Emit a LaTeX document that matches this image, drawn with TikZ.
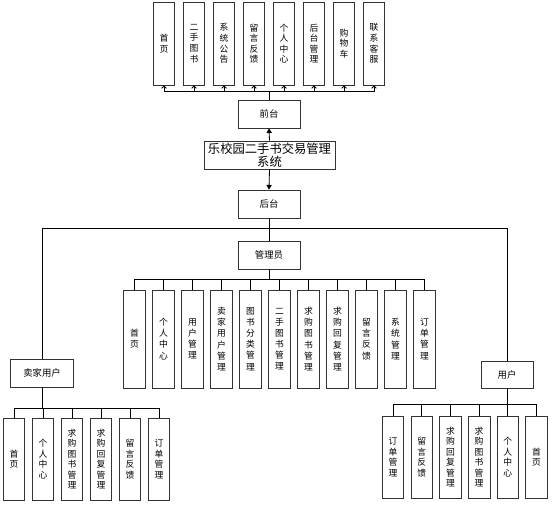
\documentclass[tikz,border=0pt]{standalone}
\usepackage{fontspec}
\setmainfont{Noto Sans CJK SC}
\usetikzlibrary{arrows.meta}

\begin{document}
\begin{tikzpicture}[x=0.03cm,y=-0.03cm,
    box/.style={draw=black!80,line width=0.6pt,fill=white,inner sep=0pt,align=center,
        font=\fontsize{8}{9}\selectfont},
    cell/.style={box,minimum width=0.65cm,font=\fontsize{7.5}{9}\selectfont},
    line/.style={line width=0.7pt,black},
    up/.style={line,-{Straight Barb[length=2pt,width=4pt]}},
    big/.style={line,-{Triangle[length=4pt,width=4.5pt]}}]
    \useasboundingbox (0,0) rectangle (554,508);

    % centre column
    \node[box,minimum width=1.86cm,minimum height=0.84cm] (qiantai) at (269,114) {前台};
    \node[box,minimum width=3.93cm,minimum height=0.84cm,text width=3.8cm,
        font=\fontsize{10.5}{11.5}\selectfont] (sys) at (269.5,155) {乐校园二手书交易管理\\系统};
    \node[box,minimum width=1.86cm,minimum height=0.84cm] (houtai) at (269,204) {后台};
    \node[box,minimum width=1.86cm,minimum height=0.84cm] (admin) at (269,255) {管理员};
    \node[box,minimum width=1.89cm,minimum height=0.84cm] (seller) at (42,373) {卖家用户};
    \node[box,minimum width=1.56cm,minimum height=0.81cm] (user) at (507,374.5) {用户};

    \draw[big] (sys.north) -- (qiantai.south);
    \draw[big] (sys.south) -- (houtai.north);

    % front end
    \coordinate (topbus) at (269,91);
    \draw[line] (qiantai.north) -- (topbus);
    \foreach \t [count=\i from 0] in {{首\\页},{二\\手\\图\\书},{系\\统\\公\\告},{留\\言\\反\\馈},
        {个\\人\\中\\心},{后\\台\\管\\理},{购\\物\\车},{联\\系\\客\\服}} {
        \node[cell,minimum height=2.49cm,font=\fontsize{7.5}{9}\selectfont] (top\i) at (164+30*\i,43.5) {\t};
        \draw[up] (topbus) -| (top\i.south);
    }

    % back end
    \coordinate (backbus) at (269,228);
    \draw[line] (houtai.south) -- (admin.north);
    \draw[line] (backbus) -| (seller.north);
    \draw[line] (backbus) -| (user.north);

    \coordinate (adminbus) at (269,279);
    \draw[line] (admin.south) -- (adminbus);
    \foreach \t [count=\i from 0] in {{首\\页},{个\\人\\中\\心},{用\\户\\管\\理},{卖\\家\\用\\户\\管\\理},
        {图\\书\\分\\类\\管\\理},{二\\手\\图\\书\\管\\理},{求\\购\\图\\书\\管\\理},{求\\购\\回\\复\\管\\理},
        {留\\言\\反\\馈},{系\\统\\管\\理},{订\\单\\管\\理}} {
        \node[cell,minimum height=2.94cm,font=\fontsize{7.5}{9.5}\selectfont] (adm\i) at (134.5+29*\i,339) {\t};
        \draw[line] (adminbus) -| (adm\i.north);
    }

    \coordinate (sellerbus) at (42,408);
    \draw[line] (seller.south) -- (sellerbus);
    \foreach \t [count=\i from 0] in {{首\\页},{个\\人\\中\\心},{求\\购\\图\\书\\管\\理},{求\\购\\回\\复\\管\\理},
        {留\\言\\反\\馈},{订\\单\\管\\理}} {
        \node[cell,minimum height=2.46cm] (sel\i) at (14+29*\i,459) {\t};
        \draw[line] (sellerbus) -| (sel\i.north);
    }

    \coordinate (userbus) at (507,404);
    \draw[line] (user.south) -- (userbus);
    \foreach \t [count=\i from 0] in {{订\\单\\管\\理},{留\\言\\反\\馈},{求\\购\\回\\复\\管\\理},{求\\购\\图\\书\\管\\理},
        {个\\人\\中\\心},{首\\页}} {
        \node[cell,minimum height=2.46cm] (usr\i) at (393+28.7*\i,457) {\t};
        \draw[line] (userbus) -| (usr\i.north);
    }
\end{tikzpicture}
\end{document}
